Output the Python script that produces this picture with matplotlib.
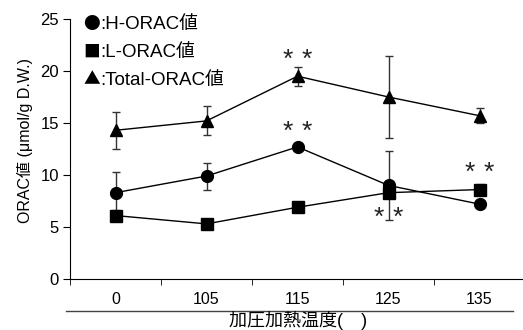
import matplotlib
matplotlib.use("Agg")
import matplotlib.pyplot as plt
import numpy as np

plt.rcParams['font.family'] = ['Liberation Sans', 'Noto Sans CJK JP', 'DejaVu Sans']

# data
temps = ['0', '105', '115', '125', '135']
h_orac = [8.3, 9.9, 12.7, 9.0, 7.2]
h_err = [2.0, 1.3, 0.2, 3.3, 0.2]
l_orac = [6.1, 5.3, 6.9, 8.3, 8.6]
l_err = [0.5, 0.5, 0.5, 0.5, 0.5]
total_orac = [14.3, 15.2, 19.5, 17.5, 15.7]
total_err = [1.8, 1.4, 0.9, 3.9, 0.7]

# significance marks (x index, y)
star_x = [2, 2, 4, 3]
star_y = [21.6, 14.7, 10.7, 6.4]

x = np.arange(len(temps))

fig = plt.figure(figsize=(5.23, 3.30), dpi=100)
ax = fig.add_axes([70/523, 51/330, 455/523, 260/330])

ax.errorbar(x, l_orac, yerr=l_err, color='black', marker='s', markersize=8,
            ecolor='#888888', capsize=3, lw=1, elinewidth=1)
ax.errorbar(x, h_orac, yerr=h_err, color='black', marker='o', markersize=8.5,
            ecolor='#333333', capsize=3, lw=1, elinewidth=1)
ax.errorbar(x, total_orac, yerr=total_err, color='black', marker='^', markersize=8.5,
            ecolor='#333333', capsize=3, lw=1, elinewidth=1)

# two asterisks each, nudged down since the glyph sits high in the em box
for sx, sy in zip(star_x, star_y):
    for dx in (-7, 7):
        ax.annotate('*', (sx, sy), xytext=(dx, -4), textcoords='offset points',
                    ha='center', va='center', fontsize=19, color='#222222')

ax.set_xlim(-0.5, 4.5)
ax.set_ylim(0, 25)
ax.set_yticks([0, 5, 10, 15, 20, 25])
ax.set_xticks(x)
ax.set_xticklabels(temps)
ax.set_xticks(np.arange(-0.5, 4.6, 1), minor=True)
ax.tick_params(axis='x', which='major', length=0, pad=9, labelsize=11.5)
ax.tick_params(axis='x', which='minor', length=4, direction='out')
ax.tick_params(axis='y', length=5, direction='out', labelsize=12, pad=3)
ax.spines['top'].set_visible(False)
ax.spines['right'].set_visible(False)

fig.text(25/523, 1 - 140/330, 'ORAC値 (μmol/g D.W.)', fontsize=11.5,
         rotation=90, ha='center', va='center')

# legend written as text
leg_sym = ['●', '■', '▲']
leg_txt = [':H-ORAC値', ':L-ORAC値', ':Total-ORAC値']
for i in range(3):
    yy = 1 - (25 + 27.5*i)/330
    fig.text(83/523, yy, leg_sym[i], fontsize=12, va='center',
             family=['Noto Sans CJK JP'])
    fig.text(100/523, yy, leg_txt[i], fontsize=13.5, va='center')

# line under the axis and the x label
fig.add_artist(plt.Line2D([66/523, 513/523], [1 - 311/330, 1 - 311/330],
                          color='#444444', lw=1))
fig.text(298/523, 1 - 320.5/330, '加圧加熱温度(　)', fontsize=13, ha='center', va='center')

fig.savefig('out.png', dpi=100)
